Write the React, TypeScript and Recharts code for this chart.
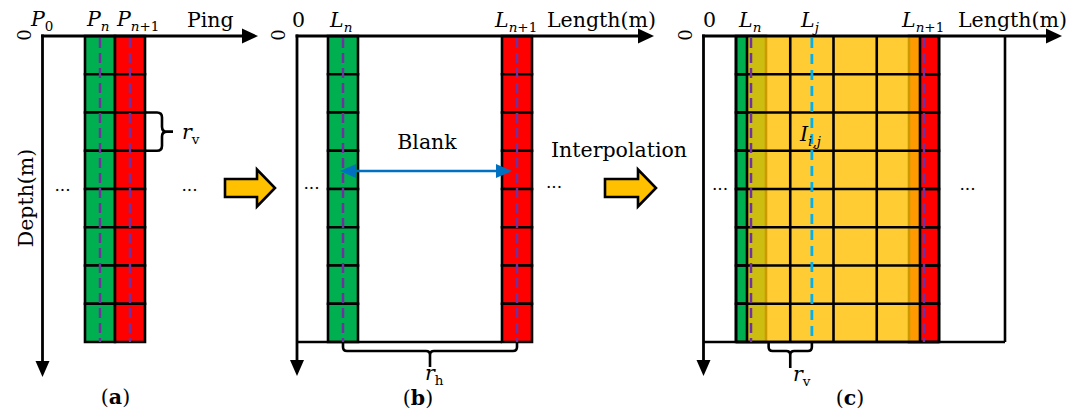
import React from 'react'
import { ComposedChart, XAxis, YAxis, ReferenceArea, ReferenceLine, ReferenceDot } from 'recharts'

// ---- diagram content ----
const depthBins = [0, 1, 2, 3, 4, 5, 6, 7] // depth cells along each ping / profile
const measuredCols = ['n', 'n+1'] // the two measured columns
const interpCols = [0, 1, 2, 3] // interpolated columns in panel (c)
const axisNames = ['Ping', 'Length(m)', 'Length(m)']
const depthName = 'Depth(m)'
const panelTags = ['a', 'b', 'c']
const notes = ['Blank', 'Interpolation']
type Sym = [string, string, string] // italic base, italic subscript, upright subscript
const pingSyms: Sym[] = [['P', '', '0'], ['P', 'n', ''], ['P', 'n', '+1']]
const lenSymsB: Sym[] = [['L', 'n', ''], ['L', 'n', '+1']]
const lenSymsC: Sym[] = [['L', 'n', ''], ['L', 'j', ''], ['L', 'n', '+1']]
const cellSym: Sym = ['I', 'i,j', '']
const vSpacing: Sym = ['r', '', 'v']
const hSpacing: Sym = ['r', '', 'h']

// ---- layout (diagram units) ----
const W = 1083
const H = 414
const SERIF = '"DejaVu Serif", "Liberation Serif", serif'
const FS = 20.5
const SUB = 13.5
const GREEN = '#00B050'
const RED = '#FF0000'
const GOLD = '#FFC000'
const PURPLE = '#7030A0'
const CYAN = '#00B0F0'
const BLUE = '#0070C0'
const LW = 2.6
const TOP = 36
const ROW_H = 38.25
const rowY = (i: number) => TOP + i * ROW_H
const BOT = rowY(depthBins.length)
const COL_W = 30
const ORIGIN = [42.5, 297, 703.5]
const X_TIP = [258, 654, 1062]
const Y_TIP = [377, 376, 376]
const COLS_A = [85, 115]
const COLS_B = [328, 502]
const COLS_C = [736, 909]
const INTERP = [747, 920]
const BOX_C_RIGHT = 1005
const IW = (INTERP[1] - INTERP[0]) / interpCols.length
const icx = (j: number) => INTERP[0] + (j + 0.5) * IW
const COL_FILL = [GREEN, RED]

type Part = { t: string; italic?: boolean; bold?: boolean; sub?: boolean }
const symParts = (s: Sym): Part[] => [
  { t: s[0], italic: true },
  ...(s[1] ? [{ t: s[1], italic: true, sub: true }] : []),
  ...(s[2] ? [{ t: s[2], sub: true }] : []),
]
const plain = (t: string): Part[] => [{ t }]
const tagParts = (t: string): Part[] => [{ t: '(' }, { t, bold: true }, { t: ')' }]

const textShape =
  (parts: Part[], anchor: 'start' | 'middle' = 'start', rotate = 0, size = FS, central = false) =>
  (p: any) => {
    const { cx, cy } = p
    let shifted = false
    return (
      <text
        x={cx}
        y={cy}
        textAnchor={anchor}
        dominantBaseline={central ? 'central' : undefined}
        fontFamily={SERIF}
        fontSize={size}
        fill="#000"
        transform={rotate ? `rotate(${rotate} ${cx} ${cy})` : undefined}
      >
        {parts.map((pt, k) => {
          const dy = pt.sub && !shifted ? 5 : !pt.sub && shifted ? -5 : 0
          shifted = !!pt.sub
          return (
            <tspan
              key={k}
              dy={dy || undefined}
              fontStyle={pt.italic ? 'italic' : undefined}
              fontWeight={pt.bold ? 'bold' : undefined}
              fontSize={pt.sub ? SUB : undefined}
            >
              {pt.t}
            </tspan>
          )
        })}
      </text>
    )
  }

const arrowLine =
  (color: string, width: number, both = false, hl = 16, hw = 7.5) =>
  (p: any) => {
    const { x1, y1, x2, y2 } = p
    const a = Math.atan2(y2 - y1, x2 - x1)
    const ux = Math.cos(a)
    const uy = Math.sin(a)
    const head = (tx: number, ty: number, dx: number, dy: number) =>
      `${tx},${ty} ${tx - dx * hl - dy * hw},${ty - dy * hl + dx * hw} ${tx - dx * hl + dy * hw},${ty - dy * hl - dx * hw}`
    const sx = both ? x1 + ux * hl * 0.7 : x1
    const sy = both ? y1 + uy * hl * 0.7 : y1
    return (
      <g>
        <line x1={sx} y1={sy} x2={x2 - ux * hl * 0.7} y2={y2 - uy * hl * 0.7} stroke={color} strokeWidth={width} />
        <polygon points={head(x2, y2, ux, uy)} fill={color} />
        {both && <polygon points={head(x1, y1, -ux, -uy)} fill={color} />}
      </g>
    )
  }

const brace =
  (arm: number, depth: number, r = 4) =>
  (p: any) => {
    const { x1, y1, x2, y2 } = p
    const L = Math.hypot(x2 - x1, y2 - y1)
    const ang = (Math.atan2(y2 - y1, x2 - x1) * 180) / Math.PI
    const m = L / 2
    const d =
      `M0,0 L0,${arm - r} Q0,${arm} ${r},${arm} L${m - r},${arm} Q${m},${arm} ${m},${arm + r} L${m},${depth} ` +
      `M${m},${arm + r} Q${m},${arm} ${m + r},${arm} L${L - r},${arm} Q${L},${arm} ${L},${arm - r} L${L},0`
    return (
      <path d={d} transform={`translate(${x1},${y1}) rotate(${ang})`} fill="none" stroke="#000" strokeWidth={2.6} />
    )
  }

const blockArrow = (p: any) => {
  const { x1, y1, x2 } = p
  const hl = 18
  const bh = 9
  const hh = 18.5
  const xb = x2 - hl
  const pts = `${x1},${y1 - bh} ${xb},${y1 - bh} ${xb},${y1 - hh} ${x2},${y1} ${xb},${y1 + hh} ${xb},${y1 + bh} ${x1},${y1 + bh}`
  return <polygon points={pts} fill={GOLD} stroke="#000" strokeWidth={2.6} />
}

type Lab = { x: number; y: number; parts: Part[]; anchor?: 'start' | 'middle'; rotate?: number; size?: number; central?: boolean }

const labels: Lab[] = [
  // panel (a)
  { x: 23.5, y: 35, parts: plain('0'), anchor: 'middle', rotate: -90, size: 18, central: true },
  { x: 31, y: 26, parts: symParts(pingSyms[0]) },
  { x: 87, y: 26, parts: symParts(pingSyms[1]) },
  { x: 117, y: 26, parts: symParts(pingSyms[2]) },
  { x: 187, y: 27, parts: plain(axisNames[0]) },
  { x: 26, y: 198, parts: plain(depthName), anchor: 'middle', rotate: -90, central: true },
  { x: 62.5, y: 191, parts: plain('...'), anchor: 'middle', size: 17 },
  { x: 189.5, y: 191, parts: plain('...'), anchor: 'middle', size: 17 },
  { x: 182, y: 139, parts: symParts(vSpacing) },
  { x: 115.5, y: 404, parts: tagParts(panelTags[0]), anchor: 'middle' },
  // panel (b)
  { x: 278, y: 35, parts: plain('0'), anchor: 'middle', rotate: -90, size: 18, central: true },
  { x: 292, y: 27, parts: plain('0') },
  { x: 330, y: 27, parts: symParts(lenSymsB[0]) },
  { x: 495, y: 27, parts: symParts(lenSymsB[1]) },
  { x: 547, y: 27, parts: plain(axisNames[1]) },
  { x: 427, y: 149, parts: plain(notes[0]), anchor: 'middle' },
  { x: 311.5, y: 189, parts: plain('...'), anchor: 'middle', size: 17 },
  { x: 554, y: 188, parts: plain('...'), anchor: 'middle', size: 17 },
  { x: 425, y: 380, parts: symParts(hSpacing) },
  { x: 418, y: 405, parts: tagParts(panelTags[1]), anchor: 'middle' },
  { x: 619, y: 157, parts: plain(notes[1]), anchor: 'middle' },
  // panel (c)
  { x: 685, y: 35, parts: plain('0'), anchor: 'middle', rotate: -90, size: 18, central: true },
  { x: 703, y: 27, parts: plain('0') },
  { x: 739, y: 27, parts: symParts(lenSymsC[0]) },
  { x: 801, y: 27, parts: symParts(lenSymsC[1]) },
  { x: 902, y: 27, parts: symParts(lenSymsC[2]) },
  { x: 958, y: 27, parts: plain(axisNames[2]) },
  { x: 800, y: 141, parts: symParts(cellSym) },
  { x: 720, y: 190, parts: plain('...'), anchor: 'middle', size: 17 },
  { x: 967.5, y: 190, parts: plain('...'), anchor: 'middle', size: 17 },
  { x: 793, y: 381, parts: symParts(vSpacing) },
  { x: 850, y: 405, parts: tagParts(panelTags[2]), anchor: 'middle' },
]

const seg = (xa: number, ya: number, xb: number, yb: number) => [
  { x: xa, y: ya },
  { x: xb, y: yb },
]

export default function App() {
  const cellAreas: React.ReactNode[] = []
  ;[COLS_A, COLS_B, COLS_C].forEach((cols, pi) =>
    measuredCols.forEach((c, ci) =>
      depthBins.forEach((i) =>
        cellAreas.push(
          <ReferenceArea
            key={`cell-${pi}-${c}-${i}`}
            x1={cols[ci]}
            x2={cols[ci] + COL_W}
            y1={rowY(i)}
            y2={rowY(i + 1)}
            fill={COL_FILL[ci]}
            fillOpacity={1}
            stroke="#000"
            strokeWidth={LW}
            ifOverflow="visible"
          />,
        ),
      ),
    ),
  )

  const gridC: React.ReactNode[] = []
  const cLeft = COLS_C[0]
  const cRight = COLS_C[1] + COL_W
  depthBins.forEach((i) =>
    gridC.push(
      <ReferenceLine key={`gh-${i}`} segment={seg(cLeft, rowY(i + 1), cRight, rowY(i + 1))} stroke="#000" strokeWidth={LW} ifOverflow="visible" />,
    ),
  )
  ;[cLeft, ...interpCols.map((j) => INTERP[0] + j * IW), INTERP[1], cRight].forEach((x, k) =>
    gridC.push(<ReferenceLine key={`gv-${k}`} segment={seg(x, TOP, x, BOT)} stroke="#000" strokeWidth={LW} ifOverflow="visible" />),
  )

  const dashed: React.ReactNode[] = []
  ;[COLS_A, COLS_B, COLS_C].forEach((cols, pi) =>
    measuredCols.forEach((c, ci) =>
      dashed.push(
        <ReferenceLine
          key={`pd-${pi}-${c}`}
          segment={seg(cols[ci] + COL_W / 2, TOP + 2, cols[ci] + COL_W / 2, BOT)}
          stroke={PURPLE}
          strokeWidth={2.5}
          strokeDasharray="10 5"
          ifOverflow="visible"
        />,
      ),
    ),
  )
  dashed.push(
    <ReferenceLine key="cyan" segment={seg(icx(1), TOP + 2, icx(1), BOT)} stroke={CYAN} strokeWidth={2.8} strokeDasharray="10 6" ifOverflow="visible" />,
  )

  const axes: React.ReactNode[] = []
  ORIGIN.forEach((ox, k) => {
    axes.push(
      <ReferenceLine key={`ax-${k}`} segment={seg(ox - 1.4, TOP, X_TIP[k], TOP)} shape={arrowLine('#000', 2.8)} ifOverflow="visible" />,
    )
    axes.push(
      <ReferenceLine key={`ay-${k}`} segment={seg(ox, TOP - 1.4, ox, Y_TIP[k])} shape={arrowLine('#000', 2.8, false, 16, 7)} ifOverflow="visible" />,
    )
  })

  return (
    <div style={{ position: 'absolute', left: 0, top: 0, width: W, height: H, background: '#fff' }}>
      <ComposedChart width={W} height={H} margin={{ top: 0, right: 0, bottom: 0, left: 0 }}>
        <XAxis type="number" dataKey="x" domain={[0, W]} hide allowDataOverflow />
        <YAxis type="number" dataKey="y" domain={[0, H]} reversed hide allowDataOverflow />
        {cellAreas}
        <ReferenceArea x1={INTERP[0]} x2={INTERP[1]} y1={TOP} y2={BOT + 1} fill={GOLD} fillOpacity={0.8} stroke="none" ifOverflow="visible" />
        {gridC}
        {/* panel boxes */}
        <ReferenceLine segment={seg(ORIGIN[1], BOT, COLS_B[1], BOT)} stroke="#000" strokeWidth={LW} ifOverflow="visible" />
        <ReferenceLine segment={seg(ORIGIN[2], BOT, BOX_C_RIGHT, BOT)} stroke="#000" strokeWidth={LW} ifOverflow="visible" />
        <ReferenceLine segment={seg(BOX_C_RIGHT, TOP, BOX_C_RIGHT, BOT)} stroke="#000" strokeWidth={LW} ifOverflow="visible" />
        {dashed}
        {axes}
        {/* braces */}
        <ReferenceLine segment={seg(COLS_A[1] + COL_W, rowY(3), COLS_A[1] + COL_W, rowY(2))} shape={brace(17, 28, 5)} ifOverflow="visible" />
        <ReferenceLine segment={seg(COLS_B[0] + COL_W / 2, BOT, COLS_B[1] + COL_W / 2, BOT)} shape={brace(9, 25, 4)} ifOverflow="visible" />
        <ReferenceLine segment={seg(icx(0), BOT, icx(1), BOT)} shape={brace(9, 26, 4)} ifOverflow="visible" />
        {/* step arrows */}
        <ReferenceLine segment={seg(225, 188, 275, 188)} shape={blockArrow} ifOverflow="visible" />
        <ReferenceLine segment={seg(605, 188, 656, 188)} shape={blockArrow} ifOverflow="visible" />
        {/* blank gap */}
        <ReferenceLine segment={seg(COLS_B[0] + 12, 171, COLS_B[1] + 10, 171)} shape={arrowLine(BLUE, 2.6, true, 16, 7)} ifOverflow="visible" />
        {labels.map((lab, k) => (
          <ReferenceDot
            key={`lab-${k}`}
            x={lab.x}
            y={lab.y}
            ifOverflow="visible"
            shape={textShape(lab.parts, lab.anchor, lab.rotate, lab.size, lab.central)}
          />
        ))}
      </ComposedChart>
    </div>
  )
}
